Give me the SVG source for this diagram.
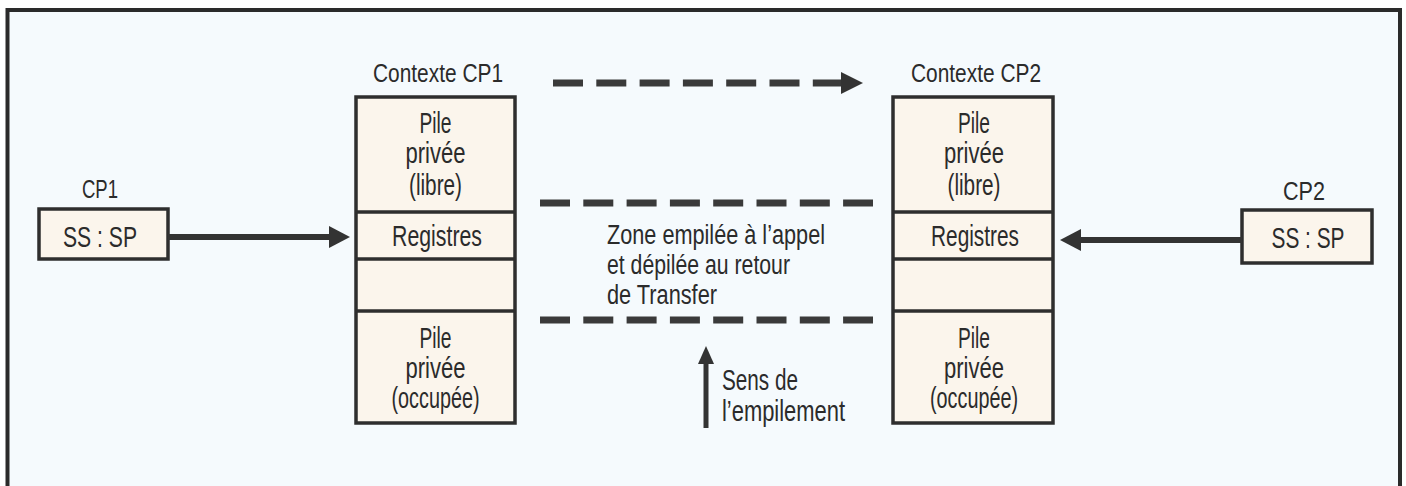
<svg xmlns="http://www.w3.org/2000/svg" width="1406" height="486" viewBox="0 0 1406 486">
  <style>
    .t { font-family: "Liberation Sans", Arial, sans-serif; fill: #2b2b2b; text-anchor: middle; }
    .tl { font-family: "Liberation Sans", Arial, sans-serif; fill: #2b2b2b; }
    .big { font-size: 29px; }
    .zone { font-size: 27px; }
    .mid { font-size: 25px; }
    .box { fill: #fbf5ec; stroke: #2e2e2e; stroke-width: 3.5; }
    .div { stroke: #2e2e2e; stroke-width: 3.5; }
    .dash { stroke: #3a3a3a; stroke-width: 7; stroke-dasharray: 30 13.3; fill: none; }
    .solid { stroke: #333; fill: none; }
    .head { fill: #333; }
  </style>
  <rect x="0" y="0" width="1406" height="486" fill="#ffffff"/>
  <rect x="7.5" y="10" width="1392.5" height="490" fill="#f5fafd" stroke="#2a2a2a" stroke-width="4"/>

  <g id="cp1">
    <text class="t mid" x="100" y="198" textLength="36" lengthAdjust="spacingAndGlyphs">CP1</text>
    <rect class="box" x="39" y="209" width="129" height="50"/>
    <text class="t big" x="100" y="247" textLength="74" lengthAdjust="spacingAndGlyphs">SS : SP</text>
  </g>

  <g id="contexte-cp1">
    <text class="t mid" x="438" y="82" textLength="130" lengthAdjust="spacingAndGlyphs">Contexte CP1</text>
    <rect class="box" x="356" y="97" width="159" height="326"/>
    <line class="div" x1="356" y1="212" x2="515" y2="212"/>
    <line class="div" x1="356" y1="259" x2="515" y2="259"/>
    <line class="div" x1="356" y1="311" x2="515" y2="311"/>
    <text class="t big" x="435.5" y="133" textLength="32" lengthAdjust="spacingAndGlyphs">Pile</text>
    <text class="t big" x="435.5" y="163" textLength="60" lengthAdjust="spacingAndGlyphs">privée</text>
    <text class="t big" x="435.5" y="195" textLength="53" lengthAdjust="spacingAndGlyphs">(libre)</text>
    <text class="t big" x="437" y="246" textLength="90" lengthAdjust="spacingAndGlyphs">Registres</text>
    <text class="t big" x="435.5" y="348" textLength="32" lengthAdjust="spacingAndGlyphs">Pile</text>
    <text class="t big" x="435.5" y="378" textLength="60" lengthAdjust="spacingAndGlyphs">privée</text>
    <text class="t big" x="435.5" y="408" textLength="88" lengthAdjust="spacingAndGlyphs">(occupée)</text>
  </g>

  <g id="contexte-cp2">
    <text class="t mid" x="976" y="82" textLength="130" lengthAdjust="spacingAndGlyphs">Contexte CP2</text>
    <rect class="box" x="893" y="97" width="160" height="326"/>
    <line class="div" x1="893" y1="212" x2="1053" y2="212"/>
    <line class="div" x1="893" y1="259" x2="1053" y2="259"/>
    <line class="div" x1="893" y1="311" x2="1053" y2="311"/>
    <text class="t big" x="974" y="133" textLength="32" lengthAdjust="spacingAndGlyphs">Pile</text>
    <text class="t big" x="974" y="163" textLength="60" lengthAdjust="spacingAndGlyphs">privée</text>
    <text class="t big" x="974" y="195" textLength="53" lengthAdjust="spacingAndGlyphs">(libre)</text>
    <text class="t big" x="975" y="246" textLength="88" lengthAdjust="spacingAndGlyphs">Registres</text>
    <text class="t big" x="974" y="348" textLength="32" lengthAdjust="spacingAndGlyphs">Pile</text>
    <text class="t big" x="974" y="378" textLength="60" lengthAdjust="spacingAndGlyphs">privée</text>
    <text class="t big" x="974" y="408" textLength="88" lengthAdjust="spacingAndGlyphs">(occupée)</text>
  </g>

  <g id="cp2">
    <text class="t mid" x="1304" y="200" textLength="42" lengthAdjust="spacingAndGlyphs">CP2</text>
    <rect class="box" x="1242" y="210" width="130" height="53"/>
    <text class="t big" x="1308" y="248" textLength="73" lengthAdjust="spacingAndGlyphs">SS : SP</text>
  </g>

  <g id="zone-label">
    <text class="tl zone" x="607" y="244" textLength="218" lengthAdjust="spacingAndGlyphs">Zone empilée à l’appel</text>
    <text class="tl zone" x="607" y="274" textLength="183" lengthAdjust="spacingAndGlyphs">et dépilée au retour</text>
    <text class="tl zone" x="607" y="304" textLength="110" lengthAdjust="spacingAndGlyphs">de Transfer</text>
  </g>

  <g id="sens-label">
    <text class="tl big" x="722" y="390" textLength="76" lengthAdjust="spacingAndGlyphs">Sens de</text>
    <text class="tl big" x="722" y="421" textLength="123" lengthAdjust="spacingAndGlyphs">l’empilement</text>
  </g>

  <g id="connectors">
    <line class="solid" x1="168" y1="237" x2="332" y2="237" stroke-width="6"/>
    <polygon class="head" points="329,226 350,237 329,248"/>
    <line class="solid" x1="1242" y1="240" x2="1078" y2="240" stroke-width="6"/>
    <polygon class="head" points="1081,229 1060,240 1081,251"/>
    <line class="dash" x1="553" y1="83" x2="843" y2="83"/>
    <polygon class="head" points="841,72 863,83 841,94"/>
    <line class="dash" x1="540" y1="203" x2="873" y2="203"/>
    <line class="dash" x1="540" y1="320" x2="873" y2="320"/>
    <line class="solid" x1="706" y1="428" x2="706" y2="360" stroke-width="5"/>
    <polygon class="head" points="698,364 706,346 714,364"/>
  </g>
</svg>
